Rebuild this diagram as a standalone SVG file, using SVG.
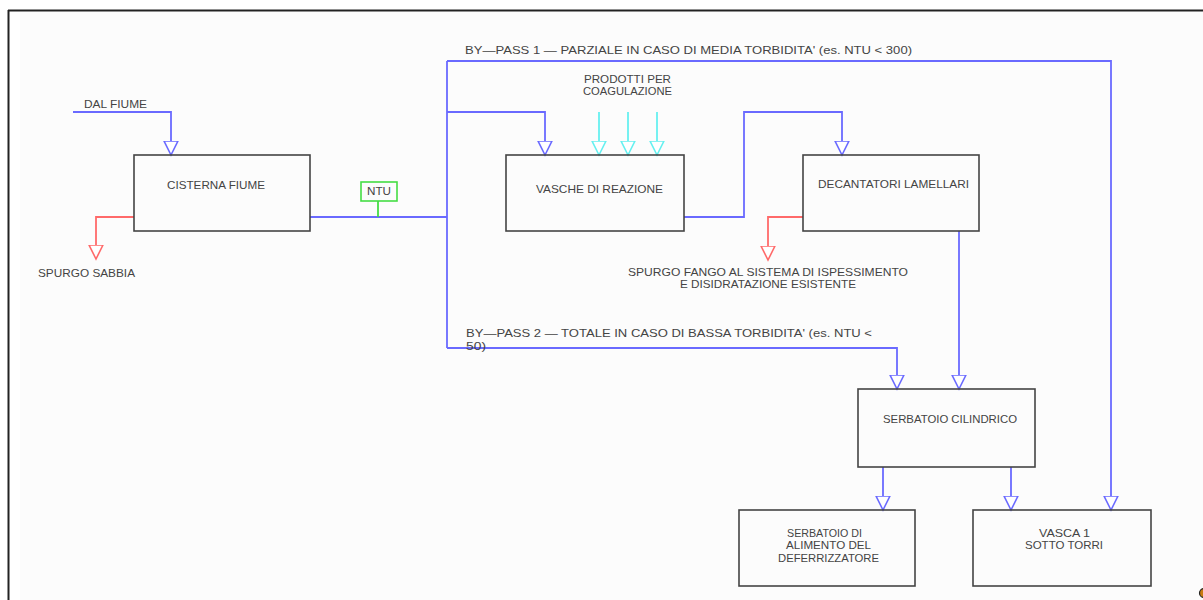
<svg xmlns="http://www.w3.org/2000/svg" width="1203" height="600" viewBox="0 0 1203 600">
<style>
.box{fill:none;stroke:#444;stroke-width:1.6}
.t{font-family:"Liberation Sans",Arial,sans-serif;font-size:10.5px;fill:#444;}
.b{fill:none;stroke:#6a6aff;stroke-width:1.8}
.r{fill:none;stroke:#ff6a6a;stroke-width:1.8}
.c{fill:none;stroke:#66f0f0;stroke-width:1.8}
.g{fill:none;stroke:#44dd44;stroke-width:1.8}
</style>
<defs>
<marker id="ab" viewBox="0 -8 16 16" refX="14" refY="0" markerWidth="16" markerHeight="16" markerUnits="userSpaceOnUse" orient="auto"><path d="M0,-7 L14,0 L0,7 Z" fill="#fff" stroke="#6a6aff" stroke-width="1.6"/></marker>
<marker id="ar" viewBox="0 -8 16 16" refX="14" refY="0" markerWidth="16" markerHeight="16" markerUnits="userSpaceOnUse" orient="auto"><path d="M0,-7 L14,0 L0,7 Z" fill="#fff" stroke="#ff6a6a" stroke-width="1.6"/></marker>
<marker id="ac" viewBox="0 -8 16 16" refX="14" refY="0" markerWidth="16" markerHeight="16" markerUnits="userSpaceOnUse" orient="auto"><path d="M0,-7 L14,0 L0,7 Z" fill="#fff" stroke="#66f0f0" stroke-width="1.6"/></marker>
</defs>
<rect x="0" y="0" width="1203" height="600" fill="#fff"/>
<rect x="20" y="12" width="1183" height="588" fill="#fcfcfc"/>
<g id="frame">
<path d="M8,10.5 H1203" stroke="#222" stroke-width="2" fill="none"/>
<path d="M8.5,10 V600" stroke="#222" stroke-width="2" fill="none"/>
</g>
<g id="connectors">
<path class="b" d="M73,112 H171 V155" marker-end="url(#ab)"/>
<path class="b" d="M310,217 H447"/>
<path class="b" d="M447,61 V348"/>
<path class="b" d="M447,61 H1111 V510" marker-end="url(#ab)"/>
<path class="b" d="M447,112 H545 V155" marker-end="url(#ab)"/>
<path class="b" d="M684,217 H744 V112 H842 V155" marker-end="url(#ab)"/>
<path class="b" d="M959,231 V389" marker-end="url(#ab)"/>
<path class="b" d="M447,348 H897 V389" marker-end="url(#ab)"/>
<path class="b" d="M883,467 V510" marker-end="url(#ab)"/>
<path class="b" d="M1011,467 V510" marker-end="url(#ab)"/>
<path class="r" d="M134,217 H96 V259" marker-end="url(#ar)"/>
<path class="r" d="M803,217 H768 V260" marker-end="url(#ar)"/>
<path class="c" d="M599,112 V155" marker-end="url(#ac)"/>
<path class="c" d="M628,112 V155" marker-end="url(#ac)"/>
<path class="c" d="M657,112 V155" marker-end="url(#ac)"/>
<path class="g" d="M378,201 V217"/>
</g>
<g id="labels">
<text class="t" x="84" y="108" textLength="63" lengthAdjust="spacingAndGlyphs">DAL FIUME</text>
<text class="t" x="38" y="277" textLength="97" lengthAdjust="spacingAndGlyphs">SPURGO SABBIA</text>
<text class="t" x="465" y="54" textLength="447" lengthAdjust="spacingAndGlyphs">BY—PASS 1 — PARZIALE IN CASO DI MEDIA TORBIDITA' (es. NTU &lt; 300)</text>
<text class="t" x="584" y="83" textLength="87" lengthAdjust="spacingAndGlyphs">PRODOTTI PER</text>
<text class="t" x="583" y="95" textLength="89" lengthAdjust="spacingAndGlyphs">COAGULAZIONE</text>
<text class="t" x="628" y="276" textLength="280" lengthAdjust="spacingAndGlyphs">SPURGO FANGO AL SISTEMA DI ISPESSIMENTO</text>
<text class="t" x="680" y="288" textLength="176" lengthAdjust="spacingAndGlyphs">E DISIDRATAZIONE ESISTENTE</text>
<text class="t" x="466" y="337" textLength="406" lengthAdjust="spacingAndGlyphs">BY—PASS 2 — TOTALE IN CASO DI BASSA TORBIDITA' (es. NTU &lt;</text>
<text class="t" x="466" y="350" textLength="20" lengthAdjust="spacingAndGlyphs">50)</text>
</g>
<g id="cisterna">
<rect class="box" x="134" y="155" width="176" height="76"/>
<text class="t" x="167" y="189" textLength="98" lengthAdjust="spacingAndGlyphs">CISTERNA FIUME</text>
</g>
<g id="ntu">
<rect x="361" y="182" width="36" height="19" fill="none" stroke="#44dd44" stroke-width="1.6"/>
<text class="t" x="367" y="195" textLength="24" lengthAdjust="spacingAndGlyphs">NTU</text>
</g>
<g id="vasche">
<rect class="box" x="506" y="155" width="178" height="76"/>
<text class="t" x="536" y="193" textLength="127" lengthAdjust="spacingAndGlyphs">VASCHE DI REAZIONE</text>
</g>
<g id="decantatori">
<rect class="box" x="803" y="155" width="176" height="76"/>
<text class="t" x="818" y="188" textLength="151" lengthAdjust="spacingAndGlyphs">DECANTATORI LAMELLARI</text>
</g>
<g id="serbatoio-cilindrico">
<rect class="box" x="858" y="389" width="177" height="78"/>
<text class="t" x="883" y="423" textLength="134" lengthAdjust="spacingAndGlyphs">SERBATOIO CILINDRICO</text>
</g>
<g id="serbatoio-alimento">
<rect class="box" x="739" y="510" width="176" height="76"/>
<text class="t" x="787" y="537" textLength="75" lengthAdjust="spacingAndGlyphs">SERBATOIO DI</text>
<text class="t" x="786" y="549" textLength="85" lengthAdjust="spacingAndGlyphs">ALIMENTO DEL</text>
<text class="t" x="778" y="562" textLength="101" lengthAdjust="spacingAndGlyphs">DEFERRIZZATORE</text>
</g>
<g id="vasca1">
<rect class="box" x="973" y="510" width="178" height="76"/>
<text class="t" x="1039" y="537" textLength="51" lengthAdjust="spacingAndGlyphs">VASCA 1</text>
<text class="t" x="1025" y="549" textLength="78" lengthAdjust="spacingAndGlyphs">SOTTO TORRI</text>
</g>
<circle cx="1204" cy="593" r="4.5" fill="#c87a10" stroke="#222" stroke-width="1.2"/>
</svg>
